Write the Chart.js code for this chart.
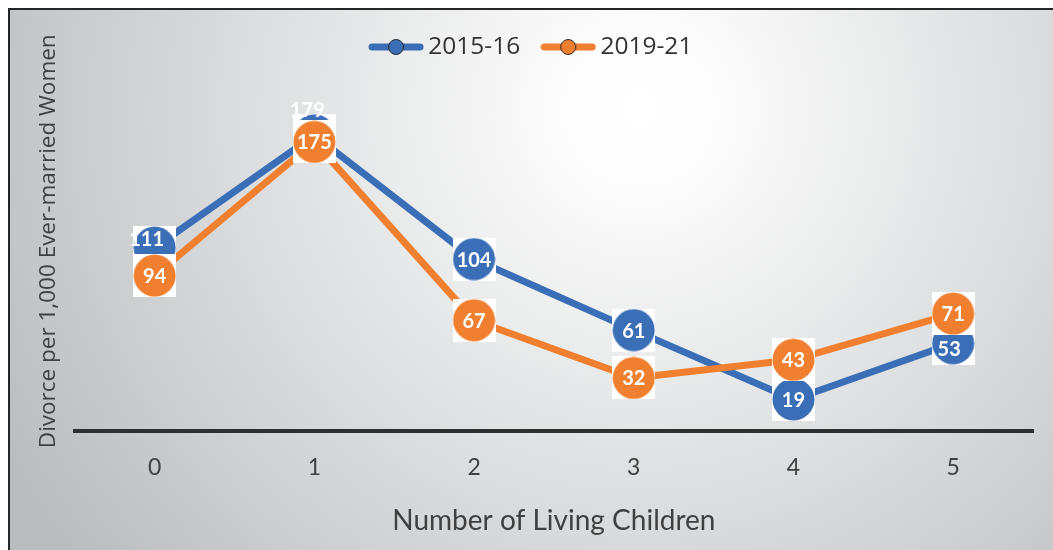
<!DOCTYPE html>
<html><head><meta charset="utf-8">
<script src="https://cdn.jsdelivr.net/npm/chart.js@4.4.1/dist/chart.umd.min.js"></script>
<style>html,body{margin:0;padding:0;background:#fff;}#wrap{width:1053px;height:550px;}</style>
</head><body><div id="wrap"><canvas id="c" width="1053" height="550"></canvas></div>
<script>
// ---- data ----
const categories = ['0', '1', '2', '3', '4', '5'];
const seriesNames = ['2015-16', '2019-21'];
const values2015 = [111, 179, 104, 61, 19, 53];
const values2019 = [94, 175, 67, 32, 43, 71];
const xTitle = 'Number of Living Children';
const yTitle = '   Divorce per 1,000 Ever-married Women';

// label nudges (px) so overlapped labels stay readable, as in the reference
const labelNudge2015 = [[-8, -9], [-7, -26], [0, 0], [0, 0], [0, 0], [-4, 5]];
const labelNudge2019 = [[0, 0], [0, 0], [0, 0], [0, 0], [0, 0], [0, 0]];

const BLUE = '#3A6FB7', ORANGE = '#F08030';
const FONT = 'Lato';
const FONT2 = '"Open Sans"';

function markerImg(color) {
  const c = document.createElement('canvas');
  c.width = 43; c.height = 43;
  const g = c.getContext('2d');
  g.fillStyle = '#ffffff'; g.fillRect(0, 0, 43, 43);
  g.beginPath(); g.arc(21.5, 21.5, 21, 0, Math.PI * 2);
  g.fillStyle = color; g.fill();
  return c;
}
function legendImg(color) {
  const c = document.createElement('canvas');
  c.width = 56; c.height = 18;
  const g = c.getContext('2d');
  g.strokeStyle = color; g.lineWidth = 7; g.lineCap = 'round';
  g.beginPath(); g.moveTo(4, 9); g.lineTo(52, 9); g.stroke();
  g.beginPath(); g.arc(28, 9, 7.5, 0, Math.PI * 2);
  g.fillStyle = color; g.fill();
  g.lineWidth = 1; g.strokeStyle = '#2a2a2a'; g.stroke();
  return c;
}

const bgPlugin = {
  id: 'bg',
  beforeDraw(chart) {
    const ctx = chart.ctx, W = chart.width, H = chart.height;
    ctx.save();
    ctx.fillStyle = '#ffffff'; ctx.fillRect(0, 0, W, H);
    const gr = ctx.createRadialGradient(640, 110, 0, 640, 110, 720);
    gr.addColorStop(0, '#ffffff');
    gr.addColorStop(0.1, '#fdfdfd');
    gr.addColorStop(1, '#babdbf');
    ctx.fillStyle = gr; ctx.fillRect(9, 9, W - 9, H - 9);
    ctx.strokeStyle = '#262626'; ctx.lineWidth = 2;
    ctx.beginPath(); ctx.moveTo(9, H); ctx.lineTo(9, 9); ctx.lineTo(W, 9); ctx.stroke();
    ctx.restore();
  }
};

const labelPlugin = {
  id: 'pointLabels',
  afterDatasetsDraw(chart) {
    const ctx = chart.ctx;
    ctx.save();
    ctx.font = 'bold 20px ' + FONT;
    ctx.fillStyle = '#ffffff';
    ctx.textAlign = 'center';
    ctx.textBaseline = 'middle';
    [[0, labelNudge2015], [1, labelNudge2019]].forEach(([di, nudge]) => {
      const meta = chart.getDatasetMeta(di);
      meta.data.forEach((pt, i) => {
        ctx.fillText(String(chart.data.datasets[di].data[i]), pt.x + nudge[i][0], pt.y + nudge[i][1] + 1);
      });
    });
    ctx.restore();
  }
};

const legendIcons = [legendImg(BLUE), legendImg(ORANGE)];

new Chart(document.getElementById('c'), {
  type: 'line',
  data: {
    labels: categories,
    datasets: [
      { label: seriesNames[0], data: values2015, borderColor: BLUE, backgroundColor: BLUE,
        borderWidth: 7, pointStyle: markerImg(BLUE), pointRadius: 21, order: 1, tension: 0 },
      { label: seriesNames[1], data: values2019, borderColor: ORANGE, backgroundColor: ORANGE,
        borderWidth: 7, pointStyle: markerImg(ORANGE), pointRadius: 21, order: 0, tension: 0 }
    ]
  },
  options: {
    responsive: false,
    animation: false,
    devicePixelRatio: 1,
    layout: { autoPadding: false, padding: { left: 35.4, right: 20, top: 6.75, bottom: 0 } },
    plugins: {
      legend: {
        position: 'top',
        labels: {
          usePointStyle: true, pointStyleWidth: 40, boxHeight: 18, padding: 28,
          font: { family: FONT2, size: 24.5 }, color: '#333333',
          generateLabels(chart) {
            return chart.data.datasets.map((ds, i) => ({
              text: ds.label, pointStyle: legendIcons[i], fillStyle: ds.borderColor,
              strokeStyle: ds.borderColor, lineWidth: 0, hidden: false, datasetIndex: i, fontColor: '#333333'
            }));
          }
        }
      },
      tooltip: { enabled: false }
    },
    scales: {
      x: {
        type: 'category', offset: true,
        grid: { display: false, drawTicks: false },
        border: { display: true, color: '#2f2f2f', width: 4 },
        ticks: { font: { family: FONT, size: 23 }, color: '#404040', padding: 23 },
        title: { display: true, text: xTitle, font: { family: FONT, size: 28 }, color: '#404040',
          padding: { top: 0, bottom: 12 } }
      },
      y: {
        min: 0, max: 219,
        grid: { display: false, drawTicks: false },
        border: { display: false },
        ticks: { display: false },
        title: { display: true, text: yTitle, font: { family: FONT2, size: 22.5 }, color: '#404040',
          padding: { top: 0, bottom: 12.4 } }
      }
    }
  },
  plugins: [bgPlugin, labelPlugin]
});
</script>
</body></html>
